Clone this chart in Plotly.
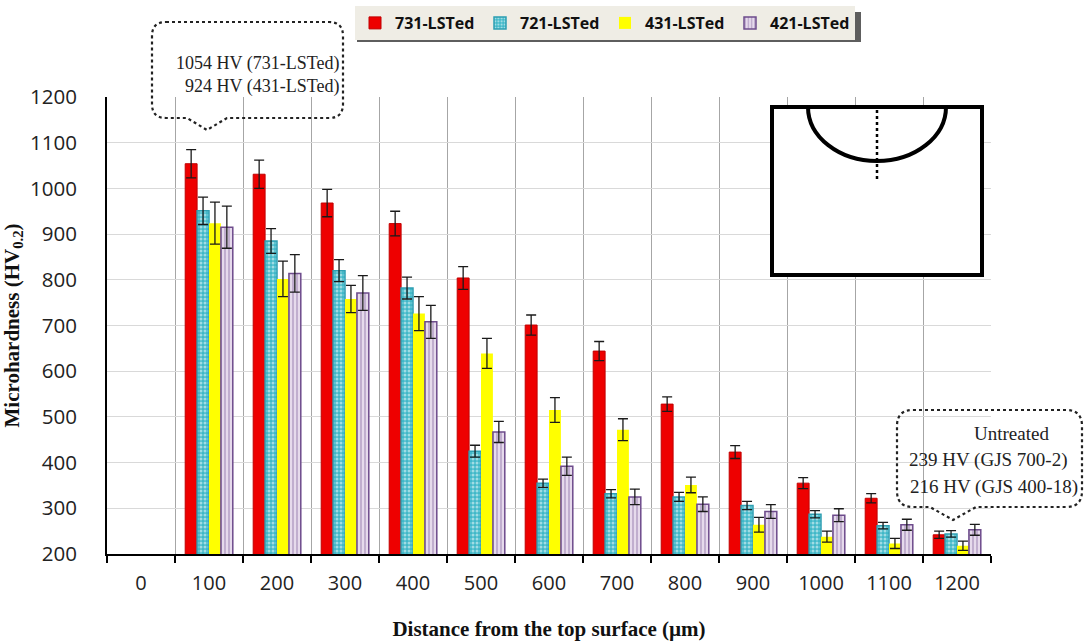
import plotly.graph_objects as go

# ---------------- data ----------------
distance = [0, 100, 200, 300, 400, 500, 600, 700, 800, 900, 1000, 1100, 1200]
tick_labels = ["0", "100", "200", "300", "400", "500", "600", "700", "800", "900", "1000", "1100", "1200"]

hv_731 = [None, 1054, 1031, 968, 923, 804, 701, 644, 528, 423, 355, 322, 242]
hv_721 = [None, 951, 885, 820, 782, 425, 355, 332, 325, 306, 287, 262, 244]
hv_431 = [None, 924, 802, 758, 726, 639, 515, 472, 351, 264, 238, 223, 218]
hv_421 = [None, 915, 814, 771, 708, 467, 392, 325, 309, 293, 285, 264, 253]

err_731 = [0, 31, 31, 30, 27, 25, 22, 21, 16, 14, 12, 10, 8]
err_721 = [0, 30, 27, 24, 24, 13, 9, 9, 10, 9, 8, 7, 7]
err_431 = [0, 46, 39, 30, 37, 33, 27, 24, 17, 16, 12, 11, 10]
err_421 = [0, 46, 41, 38, 36, 23, 20, 17, 16, 15, 14, 12, 12]

series_names = ["731-LSTed", "721-LSTed", "431-LSTed", "421-LSTed"]
boundaries = [-50, 50, 150, 250, 350, 450, 550, 650, 750, 850, 950, 1050, 1150, 1250]

# ---------------- layout helpers (pixel -> paper) ----------------
W, H = 1090, 644
L, R, T, B = 107, 991, 97, 554


def px(x):
    return (x - L) / (R - L)


def py(y):
    return (B - y) / (B - T)


def callout_path(x0, y0, x1, y1, r, pa, tip, pb):
    # rounded rectangle with a pointer on the bottom edge (pixel coords in, paper out)
    pts = []
    pts.append(f"M {px(x0 + r)},{py(y0)}")
    pts.append(f"L {px(x1 - r)},{py(y0)}")
    pts.append(f"Q {px(x1)},{py(y0)} {px(x1)},{py(y0 + r)}")
    pts.append(f"L {px(x1)},{py(y1 - r)}")
    pts.append(f"Q {px(x1)},{py(y1)} {px(x1 - r)},{py(y1)}")
    pts.append(f"L {px(pb)},{py(y1)}")
    pts.append(f"L {px(tip[0])},{py(tip[1])}")
    pts.append(f"L {px(pa)},{py(y1)}")
    pts.append(f"L {px(x0 + r)},{py(y1)}")
    pts.append(f"Q {px(x0)},{py(y1)} {px(x0)},{py(y1 - r)}")
    pts.append(f"L {px(x0)},{py(y0 + r)}")
    pts.append(f"Q {px(x0)},{py(y0)} {px(x0 + r)},{py(y0)}")
    pts.append("Z")
    return " ".join(pts)


def half_ellipse_path(cx, top, rx, ry):
    k = 0.5523
    p = [f"M {px(cx - rx)},{py(top)}",
         f"C {px(cx - rx)},{py(top + k * ry)} {px(cx - k * rx)},{py(top + ry)} {px(cx)},{py(top + ry)}",
         f"C {px(cx + k * rx)},{py(top + ry)} {px(cx + rx)},{py(top + k * ry)} {px(cx + rx)},{py(top)}"]
    return " ".join(p)


fig = go.Figure()

styles = [
    dict(color="#EE0000", line=dict(color="#C00000", width=1)),
    dict(color="#40B8C8", line=dict(color="#2E9FB2", width=1.5),
         pattern=dict(shape=".", fgcolor="#FFFFFF", bgcolor="#40B8C8", size=4, solidity=0.45)),
    dict(color="#FFFF00", line=dict(color="#FFFF00", width=0)),
    dict(color="#DCCCE4", line=dict(color="#6E4C8C", width=1.5),
         pattern=dict(shape="|", fgcolor="#7A5C96", bgcolor="#E6DAEC", size=4, solidity=0.35)),
]
values = [hv_731, hv_721, hv_431, hv_421]
errors = [err_731, err_721, err_431, err_421]

for name, vals, errs, st in zip(series_names, values, errors, styles):
    fig.add_trace(go.Bar(
        x=distance, y=vals, name=name,
        marker=st,
        error_y=dict(type="data", array=errs, visible=True, color="#1a1a1a", thickness=1.3, width=5),
    ))

shapes = []
# callout 1
shapes.append(dict(type="path", xref="paper", yref="paper",
                   path=callout_path(152, 22, 343, 118, 14, 187, (207, 130), 227),
                   line=dict(color="#222222", width=2.2, dash="dot"), fillcolor="rgba(255,255,255,0)", layer="above"))
# callout 2
shapes.append(dict(type="path", xref="paper", yref="paper",
                   path=callout_path(897, 410, 1082, 507, 16, 930, (953, 520), 976),
                   line=dict(color="#222222", width=2.2, dash="dot"), fillcolor="rgba(255,255,255,0)", layer="above"))
# legend shadow
shapes.append(dict(type="rect", xref="paper", yref="paper",
                   x0=px(357), x1=px(861), y0=py(42), y1=py(12),
                   line=dict(width=0), fillcolor="#5e5e5e", layer="below"))
# inset
shapes.append(dict(type="rect", xref="paper", yref="paper",
                   x0=px(772), x1=px(982), y0=py(275), y1=py(107),
                   line=dict(color="#000000", width=4), fillcolor="#FFFFFF", layer="above"))
shapes.append(dict(type="path", xref="paper", yref="paper",
                   path=half_ellipse_path(877, 107, 69, 54),
                   line=dict(color="#000000", width=4), layer="above"))
shapes.append(dict(type="line", xref="paper", yref="paper",
                   x0=px(877), x1=px(877), y0=py(110), y1=py(180),
                   line=dict(color="#000000", width=2.5, dash="dot"), layer="above"))

serif = "Liberation Serif, Times New Roman, serif"
annotations = [
    dict(xref="paper", yref="paper", x=px(341), y=py(75), xanchor="right", yanchor="middle",
         text="1054 HV (731-LSTed)<br>924 HV (431-LSTed)", align="right", showarrow=False,
         font=dict(family=serif, size=18, color="#222222")),
    dict(xref="paper", yref="paper", x=px(1012), y=py(433), xanchor="center", yanchor="middle",
         text="Untreated", showarrow=False, font=dict(family=serif, size=19, color="#222222")),
    dict(xref="paper", yref="paper", x=px(1070), y=py(460), xanchor="right", yanchor="middle",
         text="239 HV (GJS 700-2)", showarrow=False, font=dict(family=serif, size=19, color="#222222")),
    dict(xref="paper", yref="paper", x=px(1080), y=py(487), xanchor="right", yanchor="middle",
         text="216 HV (GJS 400-18)", showarrow=False, font=dict(family=serif, size=19, color="#222222")),
]

fig.update_layout(
    width=W, height=H,
    margin=dict(l=L, r=W - R, t=T, b=H - B, autoexpand=False),
    paper_bgcolor="white", plot_bgcolor="white",
    barmode="group", bargap=0.3, bargroupgap=0.0,
    font=dict(family="Open Sans, sans-serif", size=20, color="#222222"),
    showlegend=True,
    legend=dict(orientation="h", xref="container", yref="container", x=605 / W, y=1 - 6 / H,
                xanchor="center", yanchor="top", bgcolor="#EFEDE5", borderwidth=0,
                font=dict(family="Open Sans, sans-serif", size=16, color="#111111", weight="bold"),
                entrywidth=80, entrywidthmode="pixels", itemwidth=30, traceorder="normal"),
    shapes=shapes,
    annotations=annotations,
    xaxis=dict(
        range=[-50, 1250], tickmode="array", tickvals=distance, ticktext=tick_labels,
        showgrid=False, zeroline=False, ticks="", showline=True, linecolor="#000000", linewidth=2,
        ticklabelstandoff=10, automargin=False,
        minor=dict(tickmode="array", tickvals=boundaries, showgrid=True, gridcolor="#A6A6A6",
                   gridwidth=1, ticks="outside", ticklen=7, tickcolor="#000000", tickwidth=2),
        title=dict(text="<b>Distance from the top surface (µm)</b>", standoff=26,
                   font=dict(family=serif, size=21, color="#111111")),
        tickfont=dict(size=20, color="#222222"),
    ),
    yaxis=dict(
        range=[200, 1200], dtick=100, tick0=200, showgrid=True, gridcolor="#D9D9D9", gridwidth=1,
        zeroline=False, showline=True, linecolor="#000000", linewidth=2, ticks="",
        ticklabelstandoff=24, automargin=False,
        title=dict(text="<b>Microhardness (HV<sub>0.2</sub>)</b>", standoff=12,
                   font=dict(family=serif, size=21, color="#111111")),
        tickfont=dict(size=20.5, color="#222222"),
    ),
)

fig.write_html("out.html")
